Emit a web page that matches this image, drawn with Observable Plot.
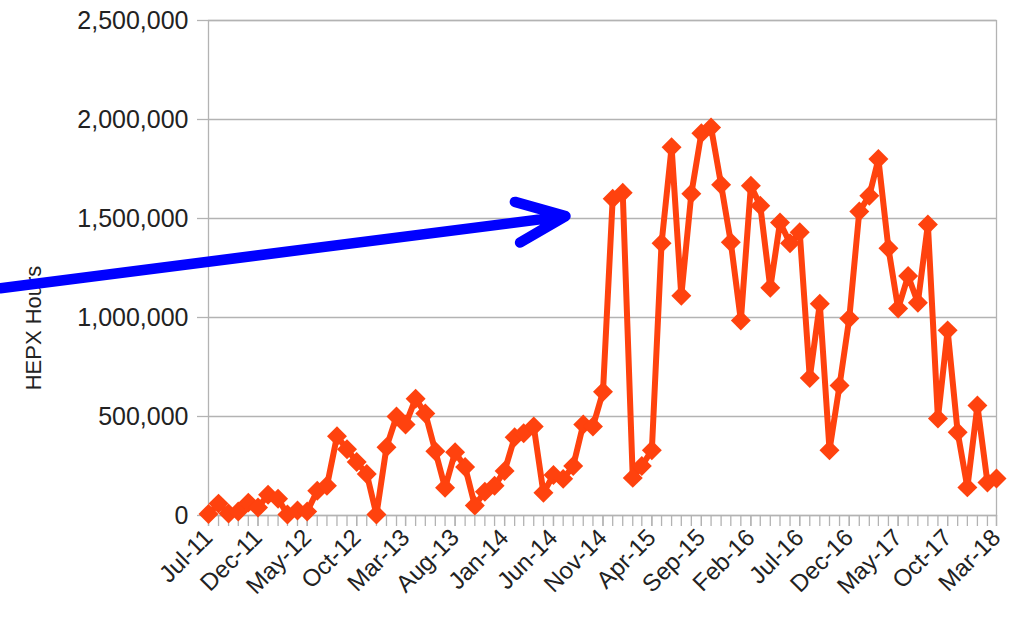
<!DOCTYPE html>
<html>
<head>
<meta charset="utf-8">
<script src="https://cdn.jsdelivr.net/npm/d3@7"></script>
<script src="https://cdn.jsdelivr.net/npm/@observablehq/plot@0.6"></script>
<style>
  html, body { margin: 0; padding: 0; background: #fff; }
  #chart { width: 1025px; height: 637px; }
  #chart svg { font-family: "Liberation Sans", Arial, sans-serif; }
</style>
</head>
<body>
<div id="chart"></div>
<script>
// Monthly HEPX hours, Jul 2011 through Mar 2018
const firstMonth = "2011-07";
const hepxHours = [
  8000, 60000, 10000, 20000, 65000, 40000, 105000, 85000, 5000, 25000,
  20000, 125000, 150000, 400000, 335000, 270000, 210000, 5000, 345000, 500000,
  460000, 590000, 515000, 325000, 140000, 320000, 245000, 50000, 120000, 150000,
  225000, 395000, 415000, 450000, 115000, 205000, 185000, 250000, 460000, 450000,
  625000, 1600000, 1630000, 190000, 250000, 330000, 1375000, 1860000, 1110000, 1625000,
  1930000, 1960000, 1670000, 1380000, 985000, 1665000, 1565000, 1150000, 1480000, 1375000,
  1430000, 695000, 1070000, 330000, 657000, 995000, 1535000, 1615000, 1800000, 1350000,
  1045000, 1210000, 1075000, 1470000, 490000, 935000, 420000, 142000, 555000, 167000,
  187000
];

// Axis ticks
const xTickLabels = ["Jul-11", "Dec-11", "May-12", "Oct-12", "Mar-13", "Aug-13", "Jan-14", "Jun-14",
  "Nov-14", "Apr-15", "Sep-15", "Feb-16", "Jul-16", "Dec-16", "May-17", "Oct-17", "Mar-18"];
const yTicks = [0, 500000, 1000000, 1500000, 2000000, 2500000];

// Annotation arrow (start, tip) in data space
const arrowDates = ["2009-09-26", "2014-07-08"];
const arrowValues = [1148000, 1512000];

const parseMonth = d3.utcParse("%Y-%m");
const parseLabel = d3.utcParse("%b-%y");
const parseDay = d3.utcParse("%Y-%m-%d");
const start = parseMonth(firstMonth);
const data = hepxHours.map((v, i) => ({date: d3.utcMonth.offset(start, i), value: v}));
const allMonths = data.map(d => d.date);
const labelMonths = xTickLabels.map(parseLabel);
const arrow = [{x1: parseDay(arrowDates[0]), y1: arrowValues[0], x2: parseDay(arrowDates[1]), y2: arrowValues[1]}];

const grid = "#b3b3b3";
const ink = "#222222";
const series = "#ff420e";

const chart = Plot.plot({
  width: 1025,
  height: 637,
  marginLeft: 208,
  marginRight: 29,
  marginTop: 20,
  marginBottom: 122,
  style: {background: "#fff", overflow: "visible"},
  x: {type: "utc", domain: [allMonths[0], allMonths[allMonths.length - 1]]},
  y: {domain: [0, 2500000]},
  marks: [
    Plot.gridY(yTicks, {stroke: grid, strokeOpacity: 1, strokeWidth: 1.3}),
    Plot.frame({stroke: grid, strokeWidth: 1.3}),
    Plot.axisX({ticks: allMonths, tickFormat: () => "", tickSize: 11, stroke: grid, strokeWidth: 1.3, label: null}),
    Plot.axisX({ticks: labelMonths, tickFormat: d3.utcFormat("%b-%y"), tickSize: 11, tickPadding: 7,
      tickRotate: -45, fontSize: 24, stroke: grid, strokeWidth: 1.3, fill: ink, label: null}),
    Plot.axisY({ticks: yTicks, tickFormat: d3.format(","), tickSize: 11, tickPadding: 9,
      fontSize: 25, stroke: grid, strokeWidth: 1.3, fill: ink, label: null}),
    Plot.text(["HEPX Hours"], {frameAnchor: "left", textAnchor: "middle", rotate: -90, dx: -175, dy: 60,
      fontSize: 22, fill: ink}),
    Plot.line(data, {x: "date", y: "value", stroke: series, strokeWidth: 6, strokeLinejoin: "round"}),
    Plot.dot(data, {x: "date", y: "value", symbol: "diamond2", r: 9, fill: series, stroke: "none"}),
    Plot.arrow(arrow, {x1: "x1", y1: "y1", x2: "x2", y2: "y2", stroke: "#0000ff", strokeWidth: 10.5,
      headLength: 7.5, headAngle: 46, strokeLinecap: "round", strokeLinejoin: "round"})
  ]
});

document.getElementById("chart").appendChild(chart);
</script>
</body>
</html>
